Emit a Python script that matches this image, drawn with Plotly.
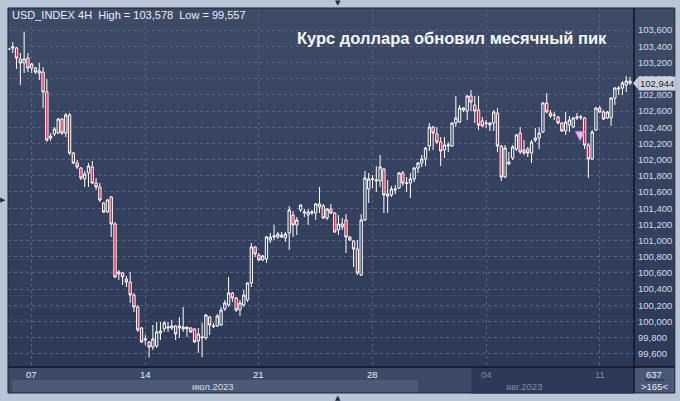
import plotly.graph_objects as go

# ---------------- data (USD_INDEX, 4H candles) ----------------
opens = [103.360,103.378,103.378,103.242,103.193,103.254,103.131,103.131,103.069,103.081,
102.835,102.267,102.316,102.328,102.501,102.328,102.551,102.081,101.958,101.896,
101.761,101.835,101.909,101.711,101.662,101.464,101.353,101.538,101.205,100.612,
100.600,100.526,100.489,100.328,100.180,99.921,99.773,99.748,99.686,99.699,
99.859,99.909,99.921,99.921,99.946,99.921,99.933,99.909,99.921,99.909,
99.760,99.798,99.798,100.057,99.940,99.946,99.958,100.156,100.205,100.353,
100.291,100.143,100.205,100.267,100.477,100.921,100.822,100.760,100.773,101.007,
101.044,101.044,101.069,101.032,101.094,101.316,101.193,101.378,101.341,101.316,
101.341,101.341,101.415,101.427,101.279,101.390,101.341,101.131,101.168,101.254,
101.044,100.995,100.896,100.575,101.254,101.637,101.755,101.736,101.736,101.884,
101.551,101.563,101.625,101.649,101.835,101.705,101.711,101.761,101.896,101.958,
102.007,102.168,102.402,102.316,102.217,102.119,102.168,102.168,102.452,102.464,
102.612,102.600,102.785,102.674,102.612,102.477,102.445,102.427,102.452,102.575,
102.168,101.785,101.946,102.020,102.131,102.328,102.119,102.131,102.081,102.242,
102.267,102.341,102.699,102.575,102.545,102.526,102.452,102.353,102.427,102.402,
102.514,102.520,102.514,102.180,102.007,102.365,102.637,102.588,102.514,102.514,
102.760,102.871,102.884,102.921,102.970]

highs = [103.378,103.452,103.390,103.316,103.578,103.316,103.193,103.143,103.193,103.143,
102.995,102.328,102.402,102.514,102.514,102.575,102.575,102.094,101.995,101.909,
101.859,101.958,101.983,101.773,101.711,101.476,101.514,101.551,101.230,100.637,
100.612,100.563,100.612,100.353,100.205,99.933,99.834,99.760,99.958,99.995,
99.995,100.007,99.995,100.020,99.958,100.057,100.180,99.935,99.933,99.921,
99.921,99.983,100.094,100.069,99.983,100.094,100.180,100.267,100.551,100.365,
100.304,100.267,100.390,100.480,100.970,100.933,100.847,100.822,101.057,101.094,
101.193,101.106,101.106,101.106,101.427,101.365,101.291,101.445,101.390,101.390,
101.378,101.464,101.662,101.452,101.402,101.452,101.353,101.316,101.279,101.328,
101.057,101.007,101.007,101.328,101.859,101.835,101.810,101.921,102.057,101.896,
101.748,101.674,101.686,101.847,101.859,101.785,101.835,101.909,101.970,102.057,
102.156,102.452,102.415,102.402,102.279,102.279,102.217,102.464,102.785,102.674,
102.649,102.797,102.859,102.785,102.785,102.526,102.489,102.464,102.612,102.637,
102.180,102.180,102.094,102.180,102.316,102.402,102.242,102.156,102.242,102.390,
102.402,102.711,102.822,102.612,102.588,102.538,102.464,102.588,102.538,102.526,
102.575,102.551,102.526,102.205,102.365,102.649,102.661,102.612,102.600,102.773,
102.896,102.908,102.970,103.032,103.020]

lows = [103.353,103.316,103.119,102.921,103.069,103.081,103.069,103.057,102.983,102.637,
102.217,102.230,102.291,102.316,102.304,102.279,102.057,101.946,101.884,101.748,
101.662,101.662,101.700,101.625,101.476,101.341,101.341,101.044,100.538,100.514,
100.452,100.427,100.230,100.118,99.872,99.736,99.711,99.557,99.649,99.674,
99.773,99.872,99.872,99.896,99.773,99.798,99.872,99.810,99.859,99.736,
99.612,99.560,99.773,99.834,99.921,99.933,99.946,100.131,100.180,100.242,
100.118,100.069,100.180,100.242,100.427,100.797,100.748,100.748,100.723,100.970,
101.007,101.020,101.032,100.983,100.884,101.044,101.069,101.353,101.291,101.193,
101.316,101.254,101.341,101.267,101.254,101.328,101.094,101.069,101.131,100.847,
100.995,100.674,100.575,100.563,101.242,101.464,101.649,101.600,101.662,101.341,
101.341,101.538,101.575,101.637,101.674,101.600,101.526,101.723,101.835,101.909,
101.921,102.106,102.119,102.193,101.921,102.020,102.094,102.156,102.402,102.452,
102.588,102.489,102.600,102.452,102.365,102.402,102.390,102.353,102.353,102.094,
101.736,101.773,101.933,101.995,102.106,102.069,102.057,102.032,101.958,102.217,
102.131,102.328,102.575,102.514,102.489,102.440,102.341,102.304,102.341,102.395,
102.489,102.489,102.131,101.773,101.995,102.353,102.575,102.489,102.501,102.415,
102.674,102.797,102.797,102.835,102.921]

closes = [103.365,103.390,103.254,103.193,103.242,103.131,103.180,103.081,103.094,102.835,
102.242,102.291,102.378,102.501,102.328,102.551,102.081,101.958,101.909,101.773,
101.822,101.921,101.711,101.662,101.501,101.353,101.501,101.205,100.551,100.588,
100.551,100.489,100.328,100.180,99.896,99.748,99.785,99.686,99.785,99.872,
99.884,99.983,99.933,99.946,99.847,99.946,99.909,99.933,99.872,99.748,
99.847,99.810,100.081,99.958,99.946,100.069,100.143,100.230,100.353,100.291,
100.143,100.230,100.328,100.477,100.921,100.835,100.760,100.810,101.044,101.044,
101.057,101.081,101.044,101.081,101.378,101.193,101.254,101.439,101.353,101.353,
101.353,101.452,101.452,101.279,101.390,101.341,101.106,101.205,101.205,101.044,
101.007,100.896,100.600,101.254,101.773,101.761,101.761,101.748,101.909,101.563,
101.575,101.637,101.637,101.835,101.711,101.711,101.761,101.896,101.958,102.007,
102.143,102.402,102.328,102.217,102.106,102.180,102.180,102.452,102.514,102.637,
102.637,102.785,102.711,102.600,102.427,102.415,102.452,102.452,102.588,102.168,
101.785,102.143,101.970,102.156,102.304,102.094,102.081,102.081,102.217,102.267,
102.328,102.699,102.588,102.538,102.551,102.452,102.353,102.464,102.489,102.514,
102.526,102.526,102.180,102.007,102.341,102.637,102.588,102.501,102.588,102.760,
102.884,102.884,102.946,102.970,102.944]

bar_index = list(range(len(closes)))

# axis ticks / labels
price_ticks = [99.6, 99.8, 100.0, 100.2, 100.4, 100.6, 100.8, 101.0, 101.2, 101.4,
               101.6, 101.8, 102.0, 102.2, 102.4, 102.6, 102.8, 103.0, 103.2, 103.4, 103.6]
price_tick_text = [f"{v:.3f}".replace(".", ",") for v in price_ticks]
day_ticks = [6, 36, 66, 96, 126, 156]
day_labels = ["07", "14", "21", "28", "04", "11"]
day_colors = ["#e6ecf5", "#e6ecf5", "#e6ecf5", "#e6ecf5", "#7f8ca5", "#7f8ca5"]
month_labels = ["июл.2023", "авг.2023"]
month_centers = [54, 136]
month_colors = ["#d6deea", "#7f8ca5"]

last_price = 102.944
last_price_text = "102,944"
signal_bar = 150.8
signal_price = 102.235

header = "USD_INDEX 4H  High = 103,578  Low = 99,557"
title = "Курс доллара обновил месячный пик"

# ---------------- figure ----------------
W, H = 680, 401
ML, MR, MT, MB = 8, 43, 8, 34
PW, PH = W - ML - MR, H - MT - MB


def px(xp):
    return (xp - ML) / PW


def py(yp):
    return (H - MB - yp) / PH


fig = go.Figure()

fig.add_trace(go.Candlestick(
    x=bar_index, open=opens, high=highs, low=lows, close=closes,
    increasing=dict(line=dict(color="#ffffff", width=1), fillcolor="#36445f"),
    decreasing=dict(line=dict(color="#ffffff", width=1), fillcolor="#e8163c"),
    whiskerwidth=0, showlegend=False, hoverinfo="skip",
))

fig.add_trace(go.Scatter(
    x=[signal_bar], y=[signal_price], mode="markers",
    marker=dict(symbol="arrow-down", size=9, color="#f0b4ec",
                line=dict(color="#b48ae6", width=1)),
    showlegend=False, hoverinfo="skip",
))

shapes = []
# gradient background: plot + right price panel
n_bands = 30
top_c = (62, 75, 103)
bot_c = (44, 57, 87)
for k in range(n_bands):
    t = k / (n_bands - 1)
    c = tuple(round(top_c[j] + (bot_c[j] - top_c[j]) * t) for j in range(3))
    y0 = MT + (H - MB - MT) * k / n_bands
    y1 = MT + (H - MB - MT) * (k + 1) / n_bands
    shapes.append(dict(type="rect", xref="paper", yref="paper", layer="below",
                       x0=px(8), x1=px(678), y0=py(y1 + 0.5), y1=py(y0),
                       fillcolor="rgb(%d,%d,%d)" % c, line=dict(width=0)))
# bottom time strip
shapes.append(dict(type="rect", xref="paper", yref="paper", layer="below",
                   x0=px(8), x1=px(637), y0=py(393), y1=py(367),
                   fillcolor="#3c4a67", line=dict(width=0)))
shapes.append(dict(type="rect", xref="paper", yref="paper", layer="below",
                   x0=px(12), x1=px(420), y0=py(393), y1=py(380),
                   fillcolor="#4c5a78", line=dict(width=0)))
shapes.append(dict(type="rect", xref="paper", yref="paper", layer="below",
                   x0=px(473), x1=px(637), y0=py(393), y1=py(367),
                   fillcolor="#2c3958", line=dict(color="#46536e", width=1)))
shapes.append(dict(type="rect", xref="paper", yref="paper", layer="below",
                   x0=px(637), x1=px(678), y0=py(393), y1=py(367),
                   fillcolor="#4a5878", line=dict(width=0)))
# separators and frame
shapes.append(dict(type="line", xref="paper", yref="paper", layer="above",
                   x0=px(637), x1=px(637), y0=py(393), y1=py(8),
                   line=dict(color="#0d1320", width=1.5)))
shapes.append(dict(type="line", xref="paper", yref="paper", layer="above",
                   x0=px(8), x1=px(678), y0=py(367), y1=py(367),
                   line=dict(color="#0d1320", width=1.5)))
shapes.append(dict(type="rect", xref="paper", yref="paper", layer="above",
                   x0=px(8), x1=px(678), y0=py(393), y1=py(8),
                   line=dict(color="#1c2433", width=1)))
shapes.append(dict(type="line", xref="paper", yref="paper", layer="above",
                   x0=px(648), x1=px(668), y0=py(380), y1=py(380),
                   line=dict(color="#1e2638", width=1)))
# last price marker triangle
shapes.append(dict(type="path", xref="paper", yref="y", layer="above",
                   path="M %f,%f L %f,%f L %f,%f Z" % (
                       px(636), last_price, px(641.5), last_price + 0.08,
                       px(641.5), last_price - 0.08),
                   fillcolor="#ccd3de", line=dict(width=0)))

FONT = "Liberation Sans"
annotations = []
annotations.append(dict(xref="paper", yref="y", x=px(641), y=last_price,
                        xanchor="left", yanchor="middle", text=last_price_text,
                        showarrow=False, bgcolor="#ccd3de", borderpad=1,
                        font=dict(family=FONT, size=9.5, color="#1b2434")))
for xv, lab, col in zip(day_ticks, day_labels, day_colors):
    annotations.append(dict(xref="x", yref="paper", x=xv, y=py(374),
                            xanchor="center", yanchor="middle", text=lab,
                            showarrow=False,
                            font=dict(family=FONT, size=9.5, color=col)))
for xv, lab, col in zip(month_centers, month_labels, month_colors):
    annotations.append(dict(xref="x", yref="paper", x=xv, y=py(386.5),
                            xanchor="center", yanchor="middle", text=lab,
                            showarrow=False,
                            font=dict(family=FONT, size=9.5, color=col)))
annotations.append(dict(xref="paper", yref="paper", x=px(657.5), y=py(374),
                        xanchor="center", yanchor="middle", text="637", showarrow=False,
                        font=dict(family=FONT, size=9.5, color="#e6ecf5")))
annotations.append(dict(xref="paper", yref="paper", x=px(657.5), y=py(386.5),
                        xanchor="center", yanchor="middle", text="&gt;165&lt;", showarrow=False,
                        font=dict(family=FONT, size=9.5, color="#e6ecf5")))
annotations.append(dict(xref="paper", yref="paper", x=px(10), y=py(15),
                        xanchor="left", yanchor="middle", text=header, showarrow=False,
                        font=dict(family=FONT, size=11, color="#e8eef8")))
annotations.append(dict(xref="paper", yref="paper", x=px(612), y=py(38),
                        xanchor="right", yanchor="middle", text="<b>" + title + "</b>",
                        showarrow=False,
                        font=dict(family=FONT, size=16.5, color="#f4f6fa")))
# window UI arrows
for (xx, yy, sym) in [(340, 3, "▼"), (3, 200, "▶"), (340, 397.5, "▲")]:
    annotations.append(dict(xref="paper", yref="paper", x=px(xx), y=py(yy),
                            xanchor="center", yanchor="middle", text=sym, showarrow=False,
                            font=dict(family="DejaVu Sans", size=7, color="#252d3d")))

fig.update_layout(
    width=W, height=H,
    margin=dict(l=ML, r=MR, t=MT, b=MB),
    paper_bgcolor="#b8c5d6",
    plot_bgcolor="rgba(0,0,0,0)",
    shapes=shapes, annotations=annotations,
    xaxis=dict(range=[-0.26, 165.05], tickvals=day_ticks, showticklabels=False,
               showgrid=True, gridcolor="#56647f", griddash="3px,3px", gridwidth=1,
               zeroline=False, rangeslider=dict(visible=False), fixedrange=True,
               showline=False, ticks=""),
    yaxis=dict(range=[99.439, 103.872], side="right", tickvals=price_ticks,
               ticktext=price_tick_text, showgrid=True, gridcolor="#56647f",
               griddash="3px,3px", gridwidth=1, zeroline=False, ticks="",
               ticklabelstandoff=3,
               tickfont=dict(family=FONT, size=9.5, color="#d3ddee"),
               showline=False, fixedrange=True),
    boxgap=0.12,
)

fig.write_html(
    "out.html",
    config={"displayModeBar": False},
    post_script="document.body.style.margin='0';document.body.style.background='#b8c5d6';",
)
